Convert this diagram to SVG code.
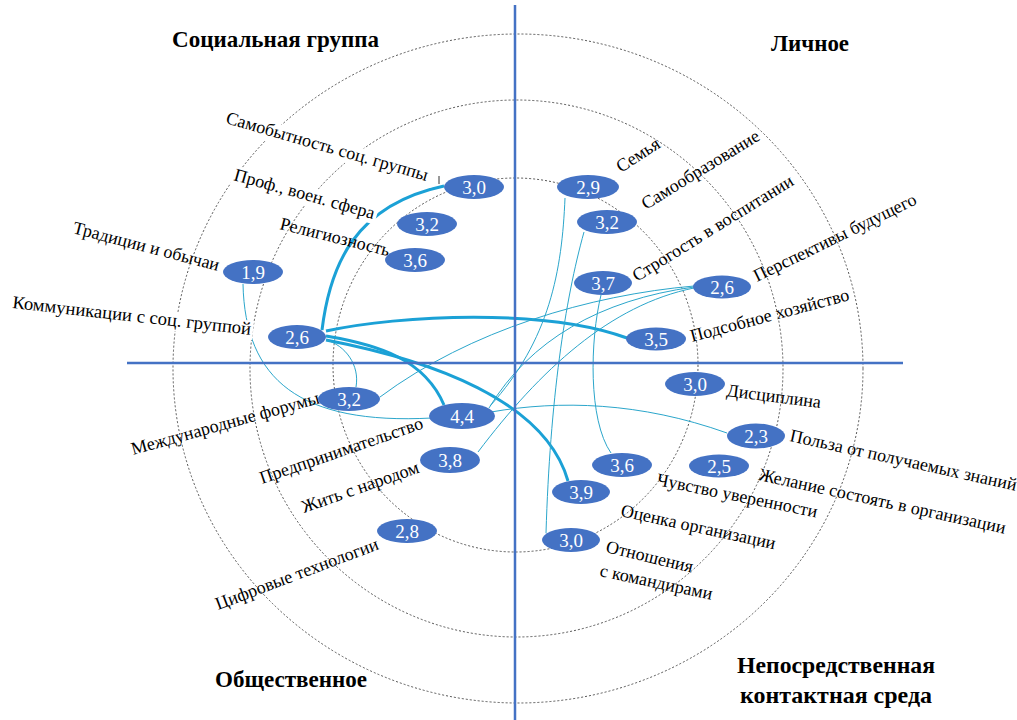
<svg xmlns="http://www.w3.org/2000/svg" width="1017" height="720" viewBox="0 0 1017 720">
<style>
.ring{fill:none;stroke:#555;stroke-width:1;stroke-dasharray:2 2}
.axis{stroke:#4472C4;stroke-width:2.5}
.thick{fill:none;stroke:#1BA1D6;stroke-width:3}
.thin{fill:none;stroke:#2BA6CB;stroke-width:1}
.node ellipse{fill:#4472C4}
.node text{font-family:"Liberation Serif","Times New Roman",serif;font-size:19px;fill:#fff;text-anchor:middle}
.lbl{font-family:"Liberation Serif","Times New Roman",serif;font-size:18px;fill:#000}
.ttl{font-family:"Liberation Serif","Times New Roman",serif;font-size:23px;font-weight:bold;fill:#000}
.bg{fill:#fff}
</style>
<rect width="1017" height="720" fill="#fff"/>
<g id="rings">
<ellipse class="ring" cx="518" cy="368.5" rx="345" ry="334.5"/>
<ellipse class="ring" cx="516.5" cy="368.5" rx="266.5" ry="268.5"/>
<ellipse class="ring" cx="515.5" cy="365" rx="182.5" ry="187"/>
</g>
<g id="connectors">
<path class="thick" d="M322 330 C330 265 355 205 444 186"/>
<path class="thick" d="M326 331 C400 315 545 308 627 338"/>
<path class="thick" d="M326 336 C380 345 425 360 444 405"/>
<path class="thick" d="M326 340 C430 360 545 400 568 481"/>
<path class="thin" d="M243 284 C245 380 300 425 432 418"/>
<path class="thin" d="M326 340 C345 345 360 365 356 387"/>
<path class="thin" d="M694 286 C590 295 470 330 380 397"/>
<path class="thin" d="M694 287 C600 300 530 340 489 408"/>
<path class="thin" d="M694 288 C610 305 540 370 478 452"/>
<path class="thin" d="M565 198 C562 270 550 340 490 406"/>
<path class="thin" d="M584 232 C565 300 550 400 546 533"/>
<path class="thin" d="M601 295 C590 340 588 420 611 453"/>
<path class="thin" d="M491 412 C560 400 640 402 727 433"/>
</g>
<g id="axes">
<line class="axis" x1="515" y1="5" x2="515" y2="720"/>
<line class="axis" x1="127" y1="363" x2="903" y2="363"/>
</g>
<g id="labels">
<g transform="translate(225 123) rotate(16.1)"><rect class="bg" x="-2" y="-14" width="218" height="19"/><text class="lbl">Самобытность соц. группы</text></g>
<line x1="439" y1="176" x2="439" y2="184" stroke="#333" stroke-width="1"/>
<g transform="translate(233 180) rotate(15.6)"><rect class="bg" x="-2" y="-14" width="150" height="19"/><text class="lbl">Проф., воен. сфера</text></g>
<text class="lbl" transform="translate(279 229) rotate(14)">Религиозность</text>
<text class="lbl" transform="translate(72 233) rotate(14.6)">Традиции и обычаи</text>
<g transform="translate(12 308) rotate(6.4)"><rect class="bg" x="-2" y="-14" width="244" height="19"/><text class="lbl" textLength="240" lengthAdjust="spacingAndGlyphs">Коммуникации с соц. группой</text></g>
<text class="lbl" transform="translate(133 455) rotate(-15.5)">Международные форумы</text>
<text class="lbl" transform="translate(262 484) rotate(-19)">Предпринимательство</text>
<text class="lbl" transform="translate(304 513) rotate(-19.3)">Жить с народом</text>
<text class="lbl" transform="translate(218 610) rotate(-20.7)">Цифровые технологии</text>
<text class="lbl" transform="translate(621 173) rotate(-33)">Семья</text>
<text class="lbl" transform="translate(646 210) rotate(-31.6)">Самообразование</text>
<text class="lbl" transform="translate(637 282) rotate(-31.8)">Строгость в воспитании</text>
<text class="lbl" transform="translate(757 282) rotate(-26)">Перспективы будущего</text>
<text class="lbl" transform="translate(692 342) rotate(-14.9)">Подсобное хозяйство</text>
<text class="lbl" transform="translate(726 396) rotate(7.3)">Дисциплина</text>
<text class="lbl" transform="translate(789 441) rotate(12.4)">Польза от получаемых знаний</text>
<text class="lbl" transform="translate(758 480) rotate(12.3)">Желание состоять в организации</text>
<text class="lbl" transform="translate(656 485) rotate(11.5)">Чувство уверенности</text>
<text class="lbl" transform="translate(620 516) rotate(12.2)">Оценка организации</text>
<text class="lbl" transform="translate(605 552) rotate(13.5)">Отношения</text>
<text class="lbl" transform="translate(599 576) rotate(12)">с командирами</text>
</g>
<g id="titles">
<text class="ttl" x="172" y="47" textLength="207" lengthAdjust="spacingAndGlyphs">Социальная группа</text>
<text class="ttl" x="771" y="51" textLength="78" lengthAdjust="spacingAndGlyphs">Личное</text>
<text class="ttl" x="215" y="687" textLength="152" lengthAdjust="spacingAndGlyphs">Общественное</text>
<text class="ttl" x="737" y="673" textLength="198" lengthAdjust="spacingAndGlyphs">Непосредственная</text>
<text class="ttl" x="740" y="703" textLength="192" lengthAdjust="spacingAndGlyphs">контактная среда</text>
</g>
<g id="n-sam" class="node"><ellipse cx="474" cy="187" rx="30" ry="12"/><text x="474" y="193.5">3,0</text></g>
<g id="n-prof" class="node"><ellipse cx="427" cy="224" rx="30" ry="12"/><text x="427" y="230.5">3,2</text></g>
<g id="n-rel" class="node"><ellipse cx="415" cy="260" rx="30" ry="12"/><text x="415" y="266.5">3,6</text></g>
<g id="n-trad" class="node"><ellipse cx="253" cy="272" rx="30" ry="12"/><text x="253" y="278.5">1,9</text></g>
<g id="n-komm" class="node"><ellipse cx="297" cy="337" rx="29" ry="12"/><text x="297" y="343.5">2,6</text></g>
<g id="n-forum" class="node"><ellipse cx="349" cy="399" rx="31" ry="12"/><text x="349" y="405.5">3,2</text></g>
<g id="n-pred" class="node"><ellipse cx="462" cy="416" rx="33" ry="13"/><text x="462" y="422.5">4,4</text></g>
<g id="n-zhit" class="node"><ellipse cx="450" cy="460" rx="30" ry="13"/><text x="450" y="466.5">3,8</text></g>
<g id="n-cifr" class="node"><ellipse cx="407" cy="531" rx="30" ry="12"/><text x="407" y="537.5">2,8</text></g>
<g id="n-sem" class="node"><ellipse cx="588" cy="187" rx="31" ry="12"/><text x="588" y="193.5">2,9</text></g>
<g id="n-samoobr" class="node"><ellipse cx="607" cy="222" rx="30" ry="12"/><text x="607" y="228.5">3,2</text></g>
<g id="n-strog" class="node"><ellipse cx="603" cy="283" rx="29" ry="12"/><text x="603" y="289.5">3,7</text></g>
<g id="n-persp" class="node"><ellipse cx="722" cy="287" rx="29" ry="11.5"/><text x="722" y="293.5">2,6</text></g>
<g id="n-podsob" class="node"><ellipse cx="656" cy="339" rx="30" ry="11.5"/><text x="656" y="345.5">3,5</text></g>
<g id="n-disc" class="node"><ellipse cx="695" cy="384" rx="30" ry="12"/><text x="695" y="390.5">3,0</text></g>
<g id="n-polza" class="node"><ellipse cx="756" cy="436" rx="29" ry="12.5"/><text x="756" y="442.5">2,3</text></g>
<g id="n-zhel" class="node"><ellipse cx="719" cy="466" rx="30" ry="11.5"/><text x="719" y="472.5">2,5</text></g>
<g id="n-chuv" class="node"><ellipse cx="622" cy="465" rx="30" ry="12"/><text x="622" y="471.5">3,6</text></g>
<g id="n-ocen" class="node"><ellipse cx="581" cy="492" rx="29" ry="12"/><text x="581" y="498.5">3,9</text></g>
<g id="n-otn" class="node"><ellipse cx="571" cy="540" rx="29" ry="12"/><text x="571" y="546.5">3,0</text></g>
</svg>
